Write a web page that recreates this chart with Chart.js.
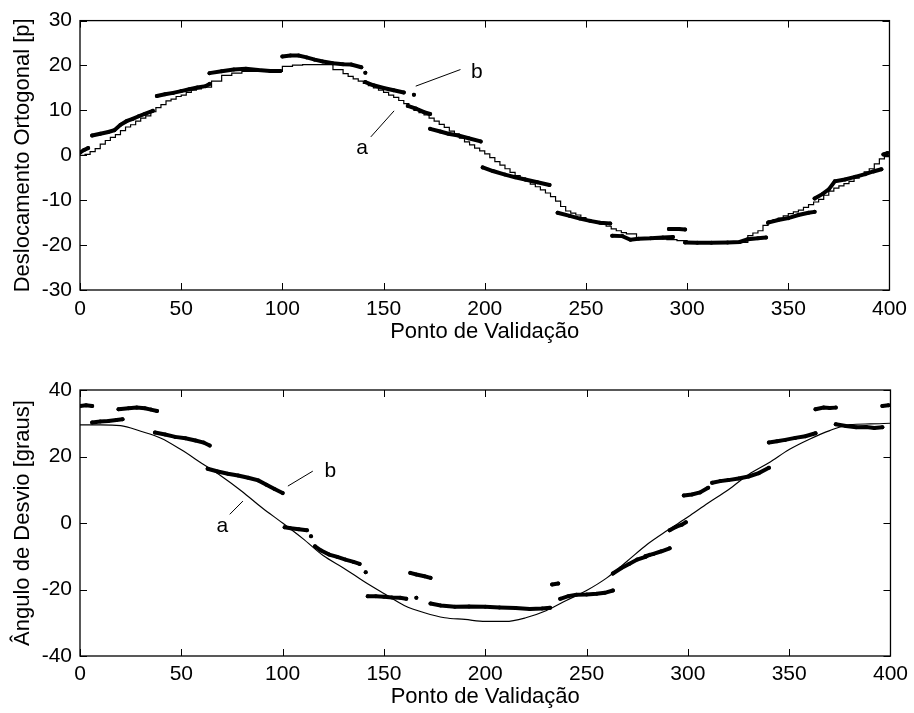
<!DOCTYPE html>
<html>
<head>
<meta charset="utf-8">
<script src="https://cdn.jsdelivr.net/npm/chart.js@4.4.1/dist/chart.umd.min.js"></script>
<style>
  body { margin: 0; background: #fff; }
  #wrap { position: relative; width: 914px; height: 713px; }
  #topChart { position: absolute; left: 0; top: 0; }
  #botChart { position: absolute; left: 0; top: 345px; }
</style>
</head>
<body>
<div id="wrap">
  <canvas id="topChart" width="914" height="345"></canvas>
  <canvas id="botChart" width="914" height="368"></canvas>
</div>
<script>
// referencia (a) - deslocamento ortogonal, em degraus
var topRefX = [0, 2.5, 5, 7.5, 10, 12.5, 15, 17.5, 20, 22.5, 25, 27.5, 30, 32.5, 35, 37.5, 40, 42.5, 45, 47.5,
  50, 52.5, 55, 57.5, 60, 65, 70, 75, 80, 85, 90, 95, 100, 105, 110, 115, 120, 125, 130, 132.5,
  135, 137.5, 140, 142.5, 145, 147.5, 150, 152.5, 155, 157.5, 160, 162.5, 165, 167.5, 170, 172.5, 175, 177.5, 180, 182.5,
  185, 187.5, 190, 192.5, 195, 197.5, 200, 202.5, 205, 207.5, 210, 212.5, 215, 217.5, 220, 222.5, 225, 227.5, 230, 232.5,
  235, 237.5, 240, 242.5, 245, 247.5, 250, 252.5, 255, 257.5, 260, 262.5, 265, 267.5, 270, 275, 280, 285, 290, 295,
  300, 305, 310, 315, 320, 325, 327.5, 330, 332.5, 335, 337.5, 340, 342.5, 345, 347.5, 350, 352.5, 355, 357.5, 360,
  362.5, 365, 367.5, 370, 372.5, 375, 377.5, 380, 382.5, 385, 387.5, 390, 392.5, 395, 397.5, 400];
var topRefY = [0, 0.2, 0.8, 1.5, 2.5, 3.3, 4, 4.6, 5.5, 6.3, 6.8, 7.6, 8.3, 8.8, 9.7, 10.6, 11.3, 12.1, 12.5, 13.1,
  13.4, 14, 14.5, 14.8, 15.2, 16.5, 17.8, 18.3, 18.7, 18.7, 18.7, 18.7, 19.8, 20.1, 20.2, 20.2, 20.2, 19.1, 18.2, 17.6,
  17, 16.5, 16, 15.5, 15, 14.5, 14, 13.4, 12.9, 12.2, 11.5, 10.8, 10, 9.5, 9, 8.3, 7.6, 6.9, 6.2, 5.4,
  4.7, 3.8, 3.0, 2.3, 1.6, 1.0, 0.3, -0.5, -1.4, -2.2, -3, -3.8, -4.5, -5.1, -5.7, -6.4, -7, -7.7, -8.4, -9.2,
  -10.2, -11.4, -12.4, -12.9, -13.3, -13.9, -14.4, -14.7, -15, -15.4, -15.8, -16.4, -16.8, -17.2, -17.5, -18.6, -18.6, -18.7, -18.8, -19,
  -19.4, -19.4, -19.4, -19.4, -19.4, -19.4, -19.4, -17.9, -17.3, -16.8, -15.6, -14.6, -14.3, -14, -13.5, -13, -12.6, -12.2, -11.6, -11,
  -10.4, -9.8, -8.9, -8, -7.3, -6.8, -6.3, -5.8, -5.1, -4.4, -3.7, -3, -1.9, -0.8, -0.3, 0];

// medido (b) - null separa os trechos
var topMeasX = [0, 2, 4, null,
  6, 10, 14, 17, 20, 23, 26, 29, 32, 36, null,
  38, 42, 46, 50, 54, 58, 62, 64, null,
  64, 70, 76, 82, 88, 94, 99, null,
  100, 104, 108, 112, 116, 120, 125, 130, 134, 139, null,
  141, null,
  141, 145, 150, 155, 160, null,
  165, null,
  162, 166, 170, 173, null,
  173, 178, 182, 187, 192, 198, null,
  199, 204, 210, 215, 220, 226, 232, null,
  236, 242, 247, 252, 257, 262, null,
  263, 268, 272, 276, 282, 288, 293, null,
  291, 296, 299, null,
  299, 305, 312, 320, 326, 330, 335, 339, null,
  340, 345, 350, 355, 360, 363, null,
  363, 367, 370, 373, 378, 383, 388, 392, 396, null,
  397, 399];
var topMeasY = [0.6, 1.2, 1.6, null,
  4.4, 4.8, 5.2, 5.6, 6.8, 7.6, 8.1, 8.7, 9.2, 9.9, null,
  13.2, 13.6, 13.9, 14.3, 14.7, 15.1, 15.4, 15.9, null,
  18.3, 18.7, 19.1, 19.3, 19.0, 18.8, 18.8, null,
  22.0, 22.2, 22.2, 21.8, 21.3, 20.9, 20.5, 20.3, 20.2, 19.6, null,
  18.4, null,
  16.3, 15.6, 15.0, 14.5, 14.0, null,
  13.5, null,
  11.0, 10.4, 9.6, 9.2, null,
  5.9, 5.3, 4.8, 4.4, 3.8, 3.1, null,
  -2.7, -3.5, -4.3, -4.9, -5.4, -6.0, -6.6, null,
  -12.8, -13.5, -14.1, -14.6, -15.0, -15.2, null,
  -17.9, -18.0, -18.8, -18.6, -18.5, -18.3, -18.2, null,
  -16.4, -16.4, -16.5, null,
  -19.4, -19.5, -19.5, -19.4, -19.3, -18.7, -18.5, -18.3, null,
  -15.0, -14.4, -14.0, -13.3, -12.8, -12.6, null,
  -9.6, -8.6, -7.6, -5.8, -5.4, -4.8, -4.2, -3.6, -3.1, null,
  0.2, 0.5];

// referencia (a) - angulo de desvio
var botRefX = [0, 10, 20, 30, 40, 50, 60, 70, 80, 90, 100, 110, 120, 130, 140, 150, 160, 170, 180, 190,
  200, 210, 220, 230, 240, 250, 260, 270, 280, 290, 300, 310, 320, 330, 340, 350, 360, 370, 380, 390, 400];
var botRefY = [29.5, 29.5, 29.3, 27.6, 25.5, 22, 18, 14, 9.5, 4.5, 0, -4.7, -9.8, -13.5, -17.5, -21.2, -24.8, -27, -28.5, -29,
  -29.6, -29.6, -28.5, -26.4, -23.3, -20.3, -16.5, -11.5, -6.4, -2.2, 1.8, 6, 10, 14.6, 18.1, 22.1, 25.2, 27.8, 29.6, 29.8, 30];

var botMeasX = [0, 3, 6, null,
  6, 10, 14, 18, 21, null,
  19, 24, 28, 32, 35, 38, null,
  37, 42, 47, 52, 57, 61, 64, null,
  63, 68, 73, 78, 83, 88, 92, 96, 100, null,
  101, 104, 108, 112, null,
  114, null,
  116, 119, 123, 127, 131, 135, 138, null,
  141, null,
  142, 146, 150, 154, 158, 161, null,
  166, null,
  163, 166, 170, 173, null,
  173, 178, 185, 192, 200, 207, 215, 222, 228, 232, null,
  233, 236, null,
  237, 241, 245, 250, 255, 259, 263, null,
  263, 267, 271, 275, 279, 281, null,
  279, 283, 287, 291, null,
  291, 294, 297, 299, null,
  298, 302, 306, 310, null,
  312, 316, 320, 325, 330, 335, 340, null,
  340, 344, 348, 353, 358, 363, null,
  363, 367, 370, 373, null,
  373, 378, 383, 388, 392, 396, null,
  396, 399];
var botMeasY = [35.2, 35.4, 35.2, null,
  30.2, 30.5, 30.7, 31.0, 31.2, null,
  34.2, 34.5, 34.7, 34.5, 34.1, 33.7, null,
  27.2, 26.6, 25.9, 25.5, 24.8, 24.2, 23.3, null,
  16.3, 15.5, 14.8, 14.3, 13.6, 12.8, 11.5, 10.2, 9.0, null,
  -1.3, -1.6, -1.9, -2.2, null,
  -4.0, null,
  -7.0, -8.3, -9.5, -10.2, -11.0, -11.7, -12.3, null,
  -14.8, null,
  -22.0, -22.0, -22.2, -22.4, -22.5, -22.8, null,
  -22.5, null,
  -15.0, -15.5, -16.0, -16.5, null,
  -24.2, -24.8, -25.2, -25.1, -25.2, -25.4, -25.6, -25.9, -25.7, -25.5, null,
  -18.5, -18.2, null,
  -22.8, -22.0, -21.6, -21.5, -21.3, -21.0, -20.3, null,
  -15.2, -13.6, -12.3, -11.0, -10.2, -9.6, null,
  -10.0, -9.3, -8.5, -7.6, null,
  -2.2, -1.2, -0.5, 0.2, null,
  8.3, 8.6, 9.2, 10.6, null,
  12.1, 12.6, 12.9, 13.4, 14.0, 15.0, 16.6, null,
  24.2, 24.6, 25.0, 25.6, 26.1, 27.0, null,
  34.2, 34.7, 34.6, 34.7, null,
  29.7, 29.2, 28.8, 28.9, 28.6, 28.8, null,
  35.2, 35.4];

// rotulos a / b: linha de chamada [x1, y1, x2, y2] e posicao do texto [x, y]
var topNotes = [
  { text: 'a', line: [143.7, 4.1, 155.2, 9.9], at: [139.4, 1.5] },
  { text: 'b', line: [165.9, 15.4, 188, 19.1], at: [196.1, 18.5] }
];
var botNotes = [
  { text: 'a', line: [73.9, 2.6, 80.4, 6.6], at: [70.2, -0.9] },
  { text: 'b', line: [102.6, 11.1, 114.9, 15.6], at: [123.6, 15.7] }
];

var FONT = "'Liberation Sans', Arial, sans-serif";

function toPoints(xs, ys) {
  var out = [], lastX = 0;
  for (var i = 0; i < xs.length; i++) {
    var x = xs[i] === null ? lastX : xs[i];
    lastX = x;
    out.push({ x: x, y: ys[i] });
  }
  return out;
}

// caixa estilo matlab, com marcas para dentro, e os rotulos a/b
var boxPlugin = {
  id: 'matlabBox',
  afterDatasetsDraw: function (chart, args, opts) {
    var ctx = chart.ctx, a = chart.chartArea, sx = chart.scales.x, sy = chart.scales.y;
    var len = 7;
    ctx.save();
    ctx.strokeStyle = '#000';
    ctx.lineWidth = 1.3;
    ctx.strokeRect(a.left, a.top, a.right - a.left, a.bottom - a.top);
    ctx.lineWidth = 1;
    ctx.beginPath();
    sx.ticks.forEach(function (t) {
      var px = Math.round(sx.getPixelForValue(t.value)) + 0.5;
      ctx.moveTo(px, a.bottom); ctx.lineTo(px, a.bottom - len);
      ctx.moveTo(px, a.top); ctx.lineTo(px, a.top + len);
    });
    sy.ticks.forEach(function (t) {
      var py = Math.round(sy.getPixelForValue(t.value)) + 0.5;
      ctx.moveTo(a.left, py); ctx.lineTo(a.left + len, py);
      ctx.moveTo(a.right, py); ctx.lineTo(a.right - len, py);
    });
    ctx.stroke();

    (opts.notes || []).forEach(function (n) {
      ctx.beginPath();
      ctx.moveTo(sx.getPixelForValue(n.line[0]), sy.getPixelForValue(n.line[1]));
      ctx.lineTo(sx.getPixelForValue(n.line[2]), sy.getPixelForValue(n.line[3]));
      ctx.stroke();
      ctx.fillStyle = '#000';
      ctx.font = '21px ' + FONT;
      ctx.textAlign = 'center';
      ctx.textBaseline = 'middle';
      ctx.fillText(n.text, sx.getPixelForValue(n.at[0]), sy.getPixelForValue(n.at[1]));
    });
    ctx.restore();
  }
};

function makeChart(id, refData, measData, smooth, yMin, yMax, yStep, yTitle, notes, cfg) {
  return new Chart(document.getElementById(id), {
    type: 'line',
    data: {
      datasets: [{
        label: 'b',
        data: measData,
        borderColor: '#000',
        backgroundColor: '#000',
        borderWidth: 4,
        pointRadius: 2,
        pointBorderWidth: 0,
        spanGaps: false,
        borderCapStyle: 'round'
      }, {
        label: 'a',
        data: refData,
        borderColor: '#000',
        borderWidth: 1.2,
        pointRadius: 0,
        stepped: smooth ? false : 'before',
        tension: smooth ? 0.4 : 0,
        cubicInterpolationMode: smooth ? 'monotone' : 'default'
      }]
    },
    options: {
      responsive: false,
      animation: false,
      devicePixelRatio: 1,
      layout: { padding: { left: 0, right: 22, top: cfg.top, bottom: 0 } },
      plugins: {
        legend: { display: false },
        tooltip: { enabled: false },
        matlabBox: { notes: notes }
      },
      scales: {
        x: {
          type: 'linear',
          min: 0,
          max: 400,
          grid: { display: false, drawTicks: false },
          border: { display: false },
          ticks: { stepSize: 50, color: '#000', padding: cfg.xPad, font: { family: FONT, size: 21 }, maxRotation: 0 },
          title: { display: true, text: 'Ponto de Validação', color: '#000', font: { family: FONT, size: 22 }, padding: { top: 0, bottom: cfg.titlePad } },
          afterFit: function (s) { s.height = cfg.xHeight; }
        },
        y: {
          min: yMin,
          max: yMax,
          grid: { display: false, drawTicks: false },
          border: { display: false },
          ticks: { stepSize: yStep, color: '#000', padding: 8, font: { family: FONT, size: 21 } },
          title: { display: true, text: yTitle, color: '#000', font: { family: FONT, size: 22 }, padding: { top: 10, bottom: 0 } },
          afterFit: function (s) { s.width = 80; }
        }
      }
    },
    plugins: [boxPlugin]
  });
}

makeChart('topChart', toPoints(topRefX, topRefY), toPoints(topMeasX, topMeasY), false,
  -30, 30, 10, 'Deslocamento Ortogonal [p]', topNotes,
  { top: 17, xHeight: 55, xPad: 7, titlePad: 0 });

makeChart('botChart', toPoints(botRefX, botRefY), toPoints(botMeasX, botMeasY), true,
  -40, 40, 20, 'Ângulo de Desvio [graus]', botNotes,
  { top: 45, xHeight: 57, xPad: 6, titlePad: 3 });
</script>
</body>
</html>
